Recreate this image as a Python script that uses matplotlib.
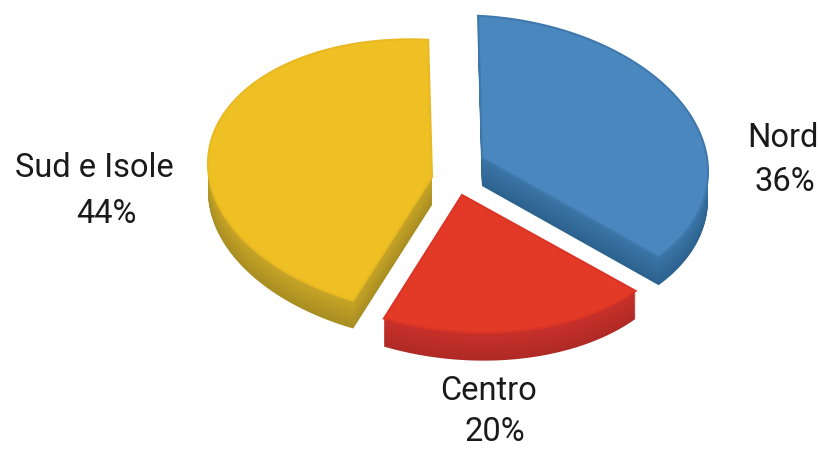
import numpy as np
import matplotlib
matplotlib.use("Agg")
import matplotlib.pyplot as plt
from matplotlib.patches import Polygon
from matplotlib.colors import to_rgb

# data, clockwise from the top
labels = ["Nord", "Centro", "Sud e Isole"]
values = [36, 20, 44]

top_colors = ["#4A87BF", "#E33A28", "#EFC024"]
edge_colors = ["#3F78AC", "#D93425", "#E8B922"]
side_light = ["#3A76A8", "#C9302A", "#C9A626"]
side_dark = ["#2C628E", "#B02A25", "#A98E22"]

# apex of every slice in image pixels
apex = [(482, 158), (462, 195), (432, 177)]
rx = [226, 222, 224]
ry = [142, 137, 137]
tilt = 0.06  # the right side of the disc sits lower
depth = 28
start = 91

label_pos = [(783, 147), (489, 400), (94, 177)]
pct_pos = [(785, 191), (495, 441), (106, 223)]

plt.rcParams['font.family'] = ['Roboto', 'DejaVu Sans']

fig = plt.figure(figsize=(8.2, 4.5), dpi=100)
ax = fig.add_axes([0, 0, 1, 1])
ax.set_xlim(0, 820)
ax.set_ylim(450, 0)
ax.axis('off')


def wedge_points(cx, cy, w, h, a0, a1):
    t = np.radians(np.linspace(a0, a1, 120))
    dx = w*np.cos(t)
    xs = cx + dx
    ys = cy - h*np.sin(t) + tilt*dx
    return np.vstack([[cx, cy], np.column_stack([xs, ys])])


total = float(sum(values))
angle = start
for i in range(len(values)):
    sweep = 360*values[i]/total
    pts = wedge_points(apex[i][0], apex[i][1], rx[i], ry[i], angle, angle - sweep)
    c0 = np.array(to_rgb(side_light[i]))
    c1 = np.array(to_rgb(side_dark[i]))
    # extruded side, painted from the bottom up
    for d in range(depth, 0, -1):
        col = c0 + (c1 - c0)*d/depth
        ax.add_patch(Polygon(pts + [0, d], closed=True, facecolor=col, edgecolor='none', zorder=2))
    ax.add_patch(Polygon(pts, closed=True, facecolor=top_colors[i], edgecolor=edge_colors[i],
                         linewidth=1.5, zorder=3))
    angle -= sweep

for i in range(len(labels)):
    ax.text(label_pos[i][0], label_pos[i][1], labels[i], ha='center', va='baseline',
            fontsize=23.5, color='#1a1a1a')
    ax.text(pct_pos[i][0], pct_pos[i][1], "%d%%" % values[i], ha='center', va='baseline',
            fontsize=23.5, color='#1a1a1a')

fig.savefig("out.png", dpi=100)
